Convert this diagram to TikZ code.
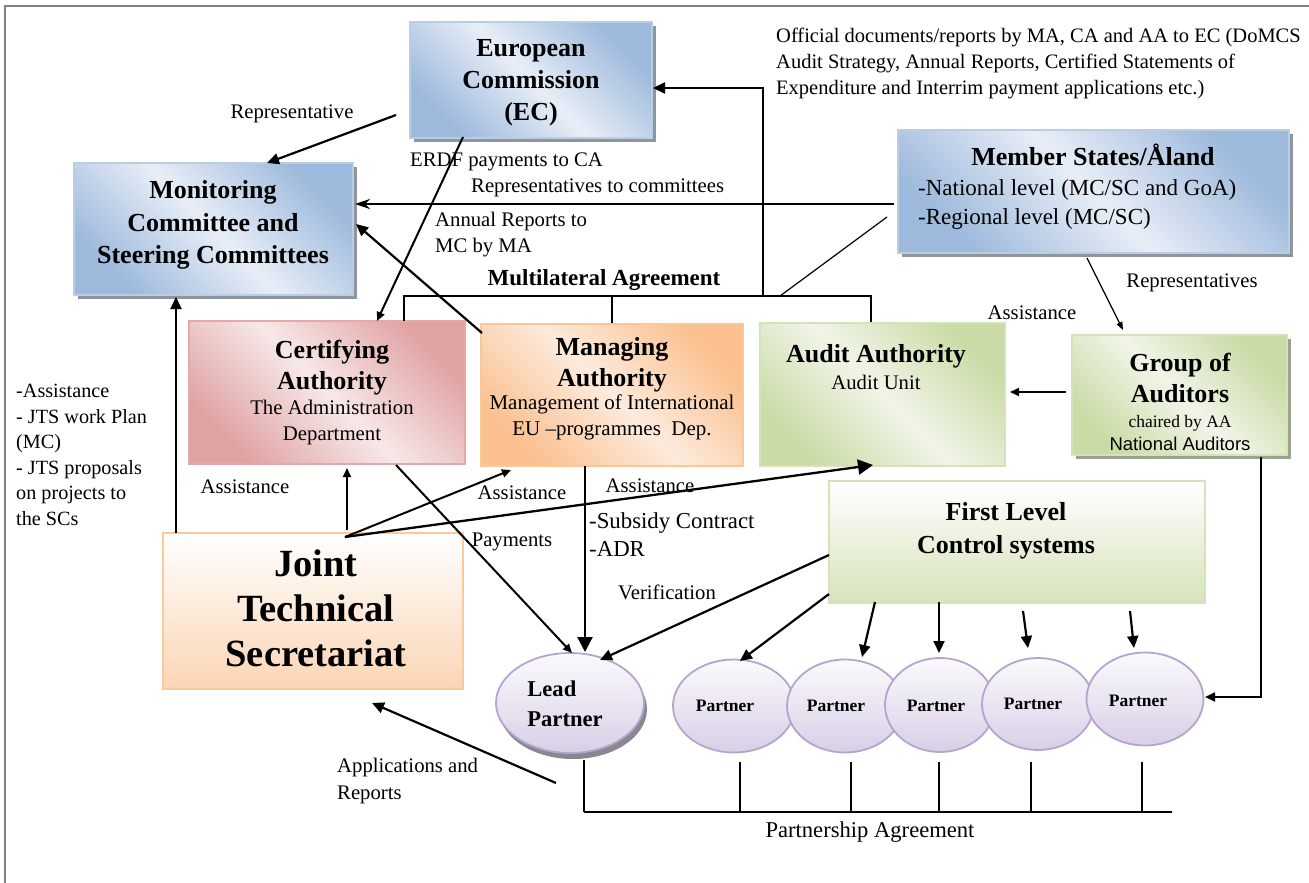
\documentclass[tikz,border=0pt]{standalone}
\usepackage{fontspec}
\setmainfont{Liberation Serif}
\newfontfamily\sansA{Liberation Sans}
\usetikzlibrary{arrows.meta,shapes.geometric,shadows}
\definecolor{blueD}{HTML}{9DB9DC}
\definecolor{blueL}{HTML}{E8EEF7}
\definecolor{blueB}{HTML}{B9CDE5}
\definecolor{shad}{HTML}{8E959E}
\definecolor{pinkD}{HTML}{E0A3A3}
\definecolor{pinkL}{HTML}{F7E8E8}
\definecolor{pinkB}{HTML}{E3AAAA}
\definecolor{peachD}{HTML}{FAC08F}
\definecolor{peachL}{HTML}{FDEBDD}
\definecolor{peachB}{HTML}{FBC797}
\definecolor{greenD}{HTML}{CADBA5}
\definecolor{greenL}{HTML}{F0F5E8}
\definecolor{greenB}{HTML}{D5E3BA}
\definecolor{goaShad}{HTML}{9EA291}
\definecolor{jtsD}{HTML}{FBD5B5}
\definecolor{jtsB}{HTML}{FAC99C}
\definecolor{flcD}{HTML}{D6E3BB}
\definecolor{partD}{HTML}{D8CFE6}
\definecolor{partL}{HTML}{FBFAFD}
\definecolor{partB}{HTML}{B4A5CF}
\definecolor{lpShad}{HTML}{8A8790}
\definecolor{frameC}{HTML}{808080}
\tikzset{
  box/.style={rectangle, inner sep=0pt, line width=2pt},
  diag/.style={shading angle=-45},
  shadowed/.style={drop shadow={shadow xshift=4pt, shadow yshift=-4pt, fill=#1, opacity=1}},
  blueBox/.style={box, draw=blueB, top color=blueD, bottom color=blueD, middle color=blueL, diag, shadowed=shad},
  pinkBox/.style={box, draw=pinkB, top color=pinkD, bottom color=pinkD, middle color=pinkL, diag},
  peachBox/.style={box, draw=peachB, top color=peachD, bottom color=peachD, middle color=peachL, diag},
  greenBox/.style={box, draw=greenB, top color=greenD, bottom color=greenD, middle color=greenL, diag},
  goaBox/.style={greenBox, shadowed=goaShad},
  flcBox/.style={box, draw=greenB, top color=white, bottom color=flcD},
  jtsBox/.style={box, draw=jtsB, top color=white, bottom color=jtsD},
  partEl/.style={ellipse, inner sep=0pt, line width=1.8pt, draw=partB, top color=partL, bottom color=partD},
  lpEl/.style={partEl, drop shadow={shadow xshift=3pt, shadow yshift=-6pt, fill=lpShad, opacity=1}},
  tB/.style={font=\fontsize{26}{32}\selectfont\bfseries, align=center, inner sep=0pt},
  lbl/.style={font=\fontsize{20.7}{26}\selectfont, inner sep=0pt},
  arrS/.style={line width=2pt, -{Triangle[length=9pt,width=8pt]}},
  arrM/.style={line width=2.2pt, -{Triangle[length=12pt,width=11pt]}},
  arrB/.style={line width=2.3pt, -{Triangle[length=15pt,width=15pt]}},
  arrK/.style={line width=2.2pt, -{Stealth[length=15pt,width=10pt,inset=5pt]}},
  thinarr/.style={line width=1.2pt, -{Triangle[length=8pt,width=6pt]}},
  thin/.style={line width=1.2pt},
  frameline/.style={line width=1.5pt, draw=frameC}
}
\begin{document}
\begin{tikzpicture}[x=1pt,y=-1pt]
\useasboundingbox (0,0) rectangle (1309,883);
% frame
\coordinate (fBL) at (5,890);
\coordinate (fTL) at (5,6);
\coordinate (fTR) at (1320,6);
\draw[frameline] (fBL) -- (fTL) -- (fTR);

% boxes
\node[blueBox, minimum width=242pt, minimum height=116pt] (ec) at (531,80) {};
\node[blueBox, minimum width=279pt, minimum height=132pt] (mc) at (213.5,229) {};
\node[blueBox, minimum width=391pt, minimum height=123pt] (ms) at (1093.5,191.5) {};
\node[pinkBox, minimum width=276pt, minimum height=143pt] (ca) at (327,392.5) {};
\node[peachBox, minimum width=262pt, minimum height=142pt] (ma) at (612,395) {};
\node[greenBox, minimum width=245pt, minimum height=143pt] (aa) at (882.5,394.5) {};
\node[goaBox, minimum width=215pt, minimum height=120pt] (goa) at (1179.5,395) {};
\node[flcBox, minimum width=376pt, minimum height=122pt] (flc) at (1017,542) {};
\node[jtsBox, minimum width=300pt, minimum height=156pt] (jts) at (313,611) {};

% ellipses
\node[lpEl, minimum width=148pt, minimum height=100pt] (lp) at (570,703) {};
\node[partEl, minimum width=122pt, minimum height=93pt] (p1) at (734,706) {};
\node[partEl, minimum width=116pt, minimum height=93pt] (p2) at (845,706) {};
\node[partEl, minimum width=110pt, minimum height=94pt] (p3) at (940,705) {};
\node[partEl, minimum width=112pt, minimum height=92pt] (p4) at (1038,704) {};
\node[partEl, minimum width=117pt, minimum height=93pt] (p5) at (1145,699) {};

% texts in boxes
\node[tB] (ecT) at (531,83) {European\\Commission\\(EC)};
\node[tB, font=\fontsize{26}{32.5}\selectfont\bfseries] (mcT) at (213,225) {Monitoring\\Committee and\\Steering Committees};
\node[tB] (msT) at (1093,155) {Member States/Åland};
\node[lbl, anchor=west, align=left, font=\fontsize{23}{29}\selectfont] (msL) at (918,205) {-National level (MC/SC and GoA)\\-Regional level (MC/SC)};
\node[tB, font=\fontsize{26}{31}\selectfont\bfseries] (caT) at (332,368) {Certifying\\Authority};
\node[lbl, align=center, font=\fontsize{20.8}{26}\selectfont] (caS) at (332,422) {The Administration\\Department};
\node[tB, font=\fontsize{26}{31}\selectfont\bfseries] (maT) at (612,365) {Managing\\Authority};
\node[lbl, align=center, font=\fontsize{21}{26}\selectfont] (maS) at (612,417) {Management of International\\EU –programmes\ \ Dep.};
\node[tB] (aaT) at (876,356) {Audit Authority};
\node[lbl] (aaS) at (876,382) {Audit Unit};
\node[tB, font=\fontsize{26}{31}\selectfont\bfseries] (goaT) at (1180,378) {Group of\\Auditors};
\node[lbl, font=\fontsize{17.5}{20}\selectfont] (goaS) at (1180,423) {chaired by AA};
\node[lbl, font=\fontsize{18.5}{20}\selectfont\sansA] (goaN) at (1180,444) {National Auditors};
\node[tB, font=\fontsize{26}{33}\selectfont\bfseries] (flcT) at (1006,531) {First Level\\Control systems};
\node[tB, font=\fontsize{38.5}{45}\selectfont\bfseries] (jtsT) at (316,608) {Joint\\Technical\\Secretariat};
\node[tB, font=\fontsize{22.6}{30}\selectfont\bfseries, align=left] (lpT) at (565,704) {Lead\\Partner};
\node[tB, font=\fontsize{17.5}{20}\selectfont\bfseries] (p1T) at (725,706) {Partner};
\node[tB, font=\fontsize{17.5}{20}\selectfont\bfseries] (p2T) at (836,706) {Partner};
\node[tB, font=\fontsize{17.5}{20}\selectfont\bfseries] (p3T) at (936,706) {Partner};
\node[tB, font=\fontsize{17.5}{20}\selectfont\bfseries] (p4T) at (1033,704) {Partner};
\node[tB, font=\fontsize{17.5}{20}\selectfont\bfseries] (p5T) at (1138,701) {Partner};

% labels
\node[lbl, anchor=west, align=left, font=\fontsize{20.5}{26}\selectfont] (offT) at (776,63) {Official documents/reports by MA, CA and AA to EC (DoMCS\\Audit Strategy, Annual Reports, Certified Statements of\\Expenditure and Interrim payment applications etc.)};
\node[lbl] (repL) at (292,114) {Representative};
\node[lbl, anchor=west] (erdfL) at (410,162) {ERDF payments to CA};
\node[lbl, anchor=west] (repcL) at (471,188) {Representatives to committees};
\node[lbl, anchor=west, align=left] (annL) at (435,235) {Annual Reports to\\MC by MA};
\node[tB, font=\fontsize{23}{26}\selectfont\bfseries] (multiL) at (604,280) {Multilateral Agreement};
\node[lbl] (repsL) at (1192,283) {Representatives};
\node[lbl] (assL1) at (1032,313) {Assistance};
\node[lbl, anchor=west, align=left, font=\fontsize{20.2}{25.6}\selectfont] (leftL) at (16,455) {-Assistance\\- JTS work Plan\\(MC)\\- JTS proposals\\on projects to\\the SCs};
\node[lbl] (assL2) at (245,487) {Assistance};
\node[lbl] (assL3) at (522,493) {Assistance};
\node[lbl] (assL4) at (650,486) {Assistance};
\node[lbl] (payL) at (512,542) {Payments};
\node[lbl, anchor=west, align=left, font=\fontsize{22.8}{28}\selectfont] (subL) at (589,535) {-Subsidy Contract\\-ADR};
\node[lbl] (verL) at (667,592) {Verification};
\node[lbl, anchor=west, align=left, font=\fontsize{20.7}{27}\selectfont] (appL) at (337,781) {Applications and\\Reports};
\node[lbl, font=\fontsize{22.6}{26}\selectfont] (paL) at (870,832) {Partnership Agreement};

% connector coordinates
\coordinate (repA) at (396,115);   \coordinate (repB) at (267,163);
\coordinate (erdfA) at (463,137);  \coordinate (erdfB) at (377,321);
\coordinate (msmcA) at (894,204);  \coordinate (msmcB) at (355,204);
\coordinate (mamcA) at (482,333);  \coordinate (mamcB) at (356,224);
\coordinate (offA) at (763,296);   \coordinate (offK) at (763,88);  \coordinate (offB) at (653,88);
\coordinate (mslA) at (887,217);   \coordinate (mslB) at (780,296);
\coordinate (brCA) at (404,321);   \coordinate (brL) at (404,296);  \coordinate (brR) at (871,296); \coordinate (brAA) at (871,322);
\coordinate (brM) at (612,296);    \coordinate (brMA) at (612,323);
\coordinate (rpsA) at (1087,258);  \coordinate (rpsB) at (1123,330);
\coordinate (gaA) at (1066,392);   \coordinate (gaB) at (1010,392);
\coordinate (gpA) at (1261,457);   \coordinate (gpK) at (1261,697); \coordinate (gpB) at (1205,697);
\coordinate (jmA) at (176,533);    \coordinate (jmB) at (176,297);
\coordinate (jcA) at (347,530);    \coordinate (jcB) at (347,468);
\coordinate (apex) at (345,537);
\coordinate (jmaB) at (511,470);   \coordinate (jaaB) at (873,465);
\coordinate (payA) at (396,465);   \coordinate (payB) at (572,653);
\coordinate (malA) at (585,466);   \coordinate (malB) at (585,652);
\coordinate (verA) at (829,555);   \coordinate (verB) at (600,660);
\coordinate (f1A) at (829,594);    \coordinate (f1B) at (740,661);
\coordinate (f2A) at (875,602);    \coordinate (f2B) at (862,657);
\coordinate (f3A) at (939,602);    \coordinate (f3B) at (939,653);
\coordinate (f4A) at (1023,611);   \coordinate (f4B) at (1028,648);
\coordinate (f5A) at (1130,611);   \coordinate (f5B) at (1134,648);
\coordinate (apA) at (556,783);    \coordinate (apB) at (372,703);
\coordinate (pa0) at (584,760);    \coordinate (pa0b) at (584,812);
\coordinate (pa1) at (740,762);    \coordinate (pa1b) at (740,812);
\coordinate (pa2) at (851,762);    \coordinate (pa2b) at (851,812);
\coordinate (pa3) at (939,762);    \coordinate (pa3b) at (939,812);
\coordinate (pa4) at (1031,762);   \coordinate (pa4b) at (1031,812);
\coordinate (pa5) at (1142,762);   \coordinate (pa5b) at (1142,812);
\coordinate (paEnd) at (1172,812);

% connectors
\draw[arrM] (repA) -- (repB);
\draw[arrS] (erdfA) -- (erdfB);
\draw[arrK] (msmcA) -- (msmcB);
\draw[arrM] (mamcA) -- (mamcB);
\draw[arrM] (offA) -- (offK) -- (offB);
\draw[thin] (mslA) -- (mslB);
\draw[thin] (brCA) -- (brL) -- (brR) -- (brAA);
\draw[thin] (brM) -- (brMA);
\draw[thinarr] (rpsA) -- (rpsB);
\draw[arrS] (gaA) -- (gaB);
\draw[line width=1.8pt, -{Triangle[length=10pt,width=9pt]}] (gpA) -- (gpK) -- (gpB);
\draw[arrM] (jmA) -- (jmB);
\draw[arrS] (jcA) -- (jcB);
\draw[arrS] (apex) -- (jmaB);
\draw[arrB] (apex) -- (jaaB);
\draw[arrS] (payA) -- (payB);
\draw[arrB] (malA) -- (malB);
\draw[arrM] (verA) -- (verB);
\draw[arrM] (f1A) -- (f1B);
\draw[arrM] (f2A) -- (f2B);
\draw[arrM] (f3A) -- (f3B);
\draw[arrM] (f4A) -- (f4B);
\draw[arrM] (f5A) -- (f5B);
\draw[arrM] (apA) -- (apB);
\draw[thin] (pa0) -- (pa0b);
\draw[thin] (pa1) -- (pa1b);
\draw[thin] (pa2) -- (pa2b);
\draw[thin] (pa3) -- (pa3b);
\draw[thin] (pa4) -- (pa4b);
\draw[thin] (pa5) -- (pa5b);
\draw[line width=1.6pt] (pa0b) -- (paEnd);
\end{tikzpicture}
\end{document}
